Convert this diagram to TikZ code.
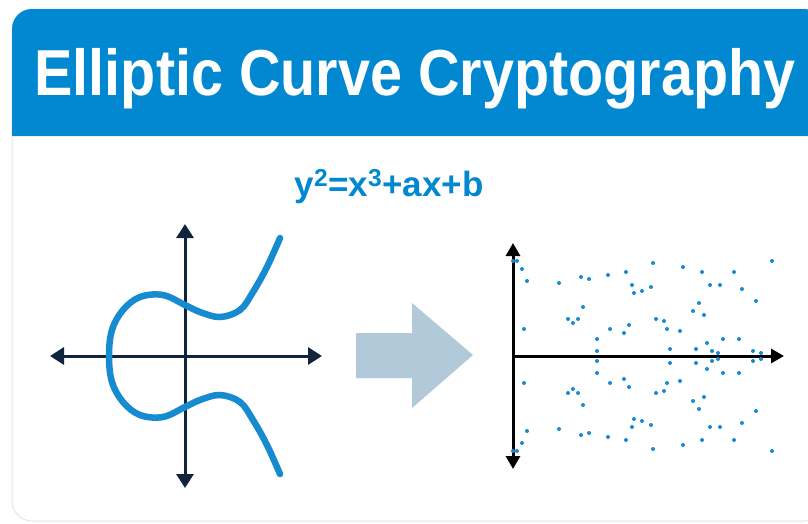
\documentclass[tikz,border=0pt]{standalone}
\usepackage{fontspec}
\setmainfont{Liberation Sans}
\usetikzlibrary{arrows.meta}
\definecolor{headblue}{RGB}{2,136,209}
\definecolor{curveblue}{RGB}{22,139,208}
\definecolor{axisnavy}{RGB}{16,36,60}
\definecolor{arrowgrey}{RGB}{178,201,217}
\definecolor{cardline}{RGB}{224,231,238}

\begin{document}
\begin{tikzpicture}[
      x=1pt, y=-1pt,
      title/.style={anchor=base, text=white, font=\bfseries\fontsize{65}{70}\selectfont, inner sep=0pt},
      eqn/.style={anchor=base, text=headblue, font=\bfseries\fontsize{35}{38}\selectfont, inner sep=0pt},
      axisline/.style={draw=axisnavy, line width=3pt, {Triangle[length=14pt,width=17pt]}-{Triangle[length=14pt,width=17pt]}},
      plotaxis/.style={draw=black, line width=3pt, -{Triangle[length=13pt,width=14pt]}},
      curveline/.style={draw=curveblue, line width=6.5pt, line cap=round},
      dot/.style={fill=curveblue}
    ]
    \useasboundingbox (0,0) rectangle (808,523);

    % card and header
    \draw[cardline, line width=1pt, rounded corners=20pt] (12,9) rectangle (824,521);
    \fill[headblue] (12,136) {[rounded corners=20pt] -- (12,9) -- (824,9)} -- (824,136) -- cycle;
    \node[title] (title) at (415,95) {\scalebox{0.885}[1]{Elliptic Curve Cryptography}};
    \node[eqn] (eq) at (389,196) {y\textsuperscript{2}=x\textsuperscript{3}+ax+b};

    % left: the curve
    \coordinate (lw) at (50,356);
    \coordinate (le) at (322,356);
    \coordinate (ln) at (185,224);
    \coordinate (ls) at (185,488);
    \draw[axisline] (lw) -- (le);
    \draw[axisline] (ls) -- (ln);
    \draw[curveline] plot[smooth, tension=0.6] coordinates {
      (280,238) (267,267) (253,292) (240,310) (220,317) (200,312) (185,305)
      (163,295) (140,297) (123,310) (112,330) (109,356) (112,382) (123,402)
      (140,415) (163,417) (185,407) (200,400) (220,395) (240,402) (253,420)
      (267,445) (280,474)};

    % block arrow
    \fill[arrowgrey] (356,333) -- (412,333) -- (412,303) -- (473,355)
      -- (412,408) -- (412,378) -- (356,378) -- cycle;

    % right: points over a finite field
    \coordinate (ro) at (513,356);
    \coordinate (rn) at (513,243);
    \coordinate (rs) at (513,469);
    \coordinate (re) at (784,356);
    \draw[plotaxis] (ro) -- (rn);
    \draw[plotaxis] (ro) -- (rs);
    \draw[plotaxis] (ro) -- (re);
    \foreach \px/\py in {513/261, 517/261, 522/269, 527/281, 524/329, 559/283,
        568/319, 573/323, 578/319, 583/307, 581/277, 589/279, 608/275, 597/339,
        597/351, 610/329, 624/333, 629/325, 626/272, 632/285, 634/293, 642/291,
        651/287, 653/263, 656/319, 664/321, 667/329, 670/349, 680/331, 683/267,
        693/311, 699/303, 704/315, 702/272, 710/285, 720/285, 696/349, 707/343,
        712/351, 718/353, 723/339, 734/272, 742/289, 739/339, 756/301, 753/351,
        761/353, 772/261} {
      \fill[dot] (\px,\py) circle (2pt);
      \fill[dot] (\px,712-\py) circle (2pt);
    }
  \end{tikzpicture}
\end{document}
